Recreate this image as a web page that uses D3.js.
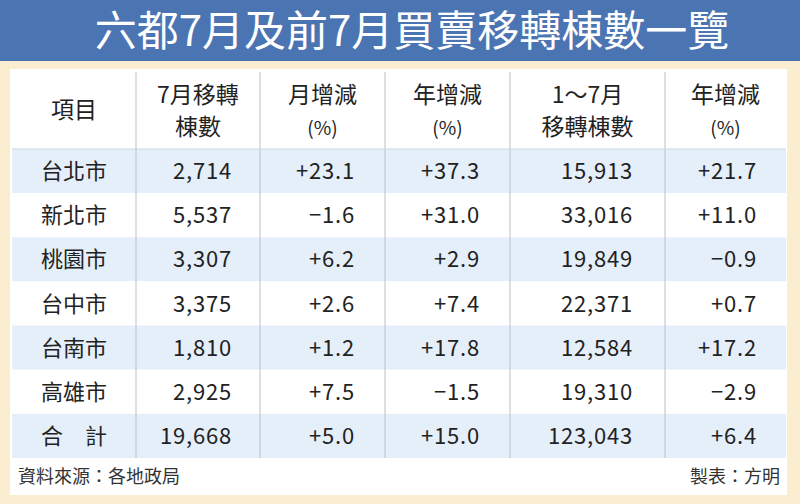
<!DOCTYPE html><html><head><meta charset="utf-8">
<script src="https://cdn.jsdelivr.net/npm/d3@7"></script>
<style>body{margin:0;background:#fbeed0}svg{display:block}</style></head><body>
<svg id="c" width="800" height="504"></svg>
<script>
const title = "六都7月及前7月買賣移轉棟數一覽";
const headers = [["項目"],["7月移轉","棟數"],["月增減","(%)"],["年增減","(%)"],["1～7月","移轉棟數"],["年增減","(%)"]];
const cities = ["台北市","新北市","桃園市","台中市","台南市","高雄市","合　計"];
const july = ["2,714","5,537","3,307","3,375","1,810","2,925","19,668"];
const mom = ["+23.1","−1.6","+6.2","+2.6","+1.2","+7.5","+5.0"];
const yoy = ["+37.3","+31.0","+2.9","+7.4","+17.8","−1.5","+15.0"];
const ytd = ["15,913","33,016","19,849","22,371","12,584","19,310","123,043"];
const ytdYoy = ["+21.7","+11.0","−0.9","+0.7","+17.2","−2.9","+6.4"];
const source = "資料來源：各地政局", maker = "製表：方明";

const svg = d3.select("#c");
const F = "'Noto Sans CJK TC','Noto Sans',sans-serif";
svg.append("rect").attr("width",800).attr("height",504).attr("fill","#fbeed0");
svg.append("rect").attr("width",800).attr("height",61).attr("fill","#4b74b3");
svg.append("text").attr("x",412).attr("y",46).attr("text-anchor","middle").attr("fill","#fff")
  .attr("font-family",F).attr("font-size",42).text(title);
svg.append("rect").attr("x",10).attr("y",69).attr("width",777).attr("height",426).attr("fill","#fff");

const colEdges=[12,136,260,385,510,665,786];
const rowY=d3.scaleBand().domain(d3.range(cities.length)).range([149,458]);
const data=cities.map((c,i)=>[c,july[i],mom[i],yoy[i],ytd[i],ytdYoy[i]]);
svg.selectAll("rect.row").data(data).enter().append("rect")
  .attr("x",12).attr("width",774).attr("y",(d,i)=>rowY(i)).attr("height",rowY.bandwidth())
  .attr("fill",(d,i)=>i%2===0?"#e5eff9":"#fff");
svg.selectAll("line.div").data(colEdges.slice(1,-1)).enter().append("line")
  .attr("x1",d=>d).attr("x2",d=>d).attr("y1",72).attr("y2",458).attr("stroke","#b9c0c8").attr("stroke-width",1);
svg.append("line").attr("x1",12).attr("x2",786).attr("y1",149).attr("y2",149).attr("stroke","#cfd6de");

headers.forEach((h,j)=>{
  const cx=(colEdges[j]+colEdges[j+1])/2;
  const mk=(txt,y,fs)=>svg.append("text").attr("x",cx).attr("y",y).attr("text-anchor","middle")
    .attr("font-family",F).attr("font-size",fs).attr("fill","#222").text(txt);
  if(h.length===1) mk(h[0],118,23);
  else { mk(h[0],103,23); mk(h[1],135,h[1]==="(%)"?19:23); }
});
const rightX=[null,232,355,480,633,757];
data.forEach((row,i)=>{
  const y=rowY(i)+rowY.bandwidth()/2+8;
  row.forEach((v,j)=>{
    svg.append("text").attr("x",j===0?74:rightX[j]).attr("y",y)
      .attr("text-anchor",j===0?"middle":"end").attr("font-family",F).attr("font-size",22)
      .attr("letter-spacing",j===0?0:0.8).attr("fill","#222").text(v);
  });
});
svg.append("text").attr("x",18).attr("y",483).attr("font-family",F).attr("font-size",18).attr("fill","#333").text(source);
svg.append("text").attr("x",780).attr("y",483).attr("text-anchor","end").attr("font-family",F).attr("font-size",18).attr("fill","#333").text(maker);
</script></body></html>
